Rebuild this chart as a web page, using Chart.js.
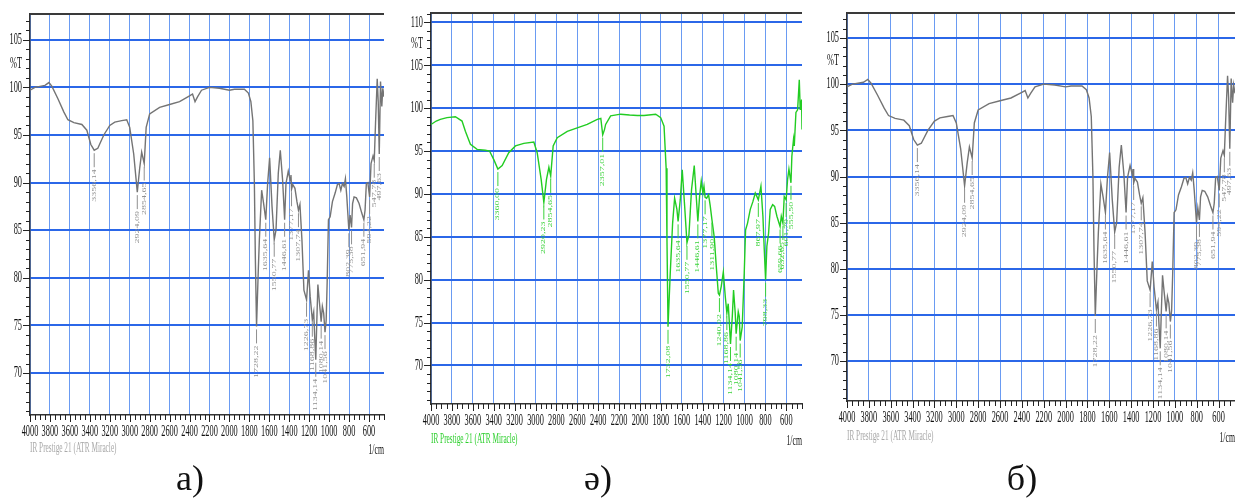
<!DOCTYPE html>
<html>
<head>
<meta charset="utf-8">
<script src="https://cdn.jsdelivr.net/npm/chart.js@4.4.1/dist/chart.umd.min.js"></script>
<style>
  body { margin: 0; width: 1235px; height: 499px; overflow: hidden; background: #fff; position: relative; font-family: "Liberation Serif", serif; }
  canvas { position: absolute; top: 0; }
  .legenda { position: absolute; top: 460px; width: 80px; text-align: center; font-size: 36px; line-height: 36px; color: #111; }
</style>
</head>
<body>
<canvas id="espectroA" width="400" height="460" style="left:0px"></canvas>
<canvas id="espectroE" width="400" height="460" style="left:410px"></canvas>
<canvas id="espectroB" width="415" height="460" style="left:820px"></canvas>
<div class="legenda" style="left:150px">а)</div>
<div class="legenda" style="left:558px">ə)</div>
<div class="legenda" style="left:982px">б)</div>

<script>
// eixos comuns (1/cm e %T)
const ticksX = [4000, 3800, 3600, 3400, 3200, 3000, 2800, 2600, 2400, 2200, 2000, 1800, 1600, 1400, 1200, 1000, 800, 600];
const ticksY = [70, 75, 80, 85, 90, 95, 100, 105];
const ticksYVerde = [70, 75, 80, 85, 90, 95, 100, 105, 110];

// espectro cinza (amostras а e б)
const ondaCinza = [4000, 3950, 3900, 3850, 3810, 3780, 3720, 3660, 3620, 3560, 3480, 3430, 3390, 3356.14, 3320, 3260,
  3200, 3150, 3080, 3030, 3000, 2960, 2924.09, 2900, 2880, 2854.65, 2835, 2800, 2700, 2600, 2500, 2400, 2370, 2345,
  2320, 2280, 2200, 2100, 2000, 1950, 1850, 1810, 1785, 1765, 1750, 1740, 1728.22, 1710, 1700, 1677, 1657, 1635.64,
  1617, 1597, 1573, 1550.77, 1533, 1510, 1490, 1467, 1446.61, 1433, 1410, 1390, 1383, 1377.17, 1365, 1343, 1323,
  1307.74, 1293, 1273, 1253, 1226.73, 1215, 1207, 1190, 1168.86, 1155, 1145, 1134.14, 1125, 1113, 1100, 1080.14,
  1068, 1055, 1041.56, 1030, 1020, 1007, 990, 967, 940, 917, 900, 883, 867, 850, 837, 823, 802.39, 790, 775.38,
  765, 750, 727, 700, 673, 651.94, 640, 627, 612, 594.22, 580, 560, 547.78, 535, 518, 508, 497.63, 485, 472, 462, 450];
const transCinza = [99.7, 100.0, 100.1, 100.2, 100.5, 100.1, 98.8, 97.4, 96.6, 96.3, 96.1, 95.5, 94.0, 93.4, 93.6, 95.0,
  96.0, 96.35, 96.5, 96.6, 95.8, 93.0, 89.0, 91.5, 93.2, 92.0, 95.8, 97.2, 97.9, 98.2, 98.5, 99.1, 99.3, 98.5,
  99.0, 99.7, 100.0, 99.9, 99.7, 99.8, 99.8, 99.4, 98.5, 96.5, 90.0, 82.0, 74.9, 81.0, 84.0, 89.2, 87.8, 86.1,
  89.9, 92.6, 87.5, 84.0, 85.0, 91.0, 93.4, 90.3, 86.1, 89.9, 91.2, 90.2, 90.8, 89.3, 89.8, 89.4, 88.0,
  87.1, 87.7, 84.0, 78.7, 77.7, 79.5, 80.8, 78.0, 75.6, 76.4, 73.8, 71.4, 75.0, 79.3, 77.7, 75.4,
  77.0, 76.3, 74.3, 75.5, 79.5, 86.1, 86.4, 88.0, 88.9, 89.8, 89.9, 89.2, 89.9, 89.6, 90.4, 88.5, 85.0, 86.6, 85.3,
  87.8, 88.5, 88.4, 87.8, 86.8, 86.1, 87.1, 89.9, 90.0, 88.5, 92.0, 92.8, 92.3, 96.2, 100.9, 98.5, 93.0, 100.6, 98.0, 99.9, 99.0];
const picosCinza = [3356.14, 2924.09, 2854.65, 1728.22, 1635.64, 1550.77, 1446.61, 1377.17, 1307.74, 1226.73,
  1168.86, 1134.14, 1080.14, 1041.56, 802.39, 775.38, 651.94, 594.22, 547.78, 497.63];

// espectro verde (amostra ə)
const ondaVerde = [4000, 3950, 3911, 3847, 3767, 3703, 3671, 3623, 3559, 3480, 3440, 3399, 3360.00, 3319, 3256, 3192,
  3112, 3016, 2984, 2946, 2920.23, 2895, 2872, 2854.65, 2831, 2792, 2696, 2601, 2505, 2409, 2375, 2357.01, 2340,
  2329, 2281, 2185, 2100, 2026, 1962, 1850, 1802, 1770, 1750, 1742, 1732.08, 1711, 1688, 1669, 1647, 1635.64,
  1615, 1596, 1573, 1550.77, 1532, 1507, 1481, 1462, 1446.61, 1430, 1414, 1398, 1388, 1377.17, 1363, 1344, 1328,
  1311.90, 1290, 1270, 1251, 1240.02, 1223, 1203, 1184, 1168.86, 1156, 1143, 1134.14, 1117, 1105, 1089, 1080.14,
  1060, 1050, 1041.56, 1022, 1003, 990, 971, 945, 920, 897, 885, 867.97, 843, 824, 811, 798.33, 786, 770, 754,
  731, 712, 690, 659.66, 648, 632.65, 620, 601.79, 588, 575, 555.50, 547, 531, 524, 508, 492, 476, 467, 454, 450];
const transVerde = [98.1, 98.5, 98.7, 98.9, 99.0, 98.5, 97.3, 95.8, 95.2, 95.1, 95.0, 94.0, 92.9, 93.3, 94.8, 95.6,
  95.9, 96.05, 94.8, 91.7, 89.0, 91.7, 93.1, 92.1, 95.6, 96.55, 97.3, 97.7, 98.1, 98.7, 98.8, 96.9, 97.5,
  98.1, 99.1, 99.3, 99.2, 99.15, 99.15, 99.3, 98.9, 97.9, 93.0, 84.6, 74.5, 80.7, 86.6, 89.5, 88.2, 86.8,
  89.3, 92.8, 88.6, 84.3, 85.2, 90.5, 93.3, 89.7, 86.8, 89.7, 91.5, 90.1, 90.9, 89.6, 89.5, 89.9, 88.6,
  87.0, 85.0, 81.5, 78.4, 78.2, 79.2, 80.9, 78.0, 76.1, 77.2, 74.5, 72.5, 75.7, 78.8, 76.1, 73.7,
  76.25, 75.7, 72.9, 74.5, 80.7, 85.8, 86.6, 88.2, 89.1, 90.1, 89.8, 89.3, 90.9, 87.4, 83.5, 80.0, 83.9, 85.4, 88.2,
  88.75, 88.55, 87.4, 86.2, 87.4, 86.6, 89.7, 89.3, 91.7, 92.9, 91.3, 94.4, 96.4, 95.6, 99.5, 99.8, 103.3, 99.8, 101.0, 97.5];
const picosVerde = [3360.00, 2920.23, 2854.65, 2357.01, 1732.08, 1635.64, 1550.77, 1446.61, 1377.17, 1311.90,
  1240.02, 1168.86, 1134.14, 1080.14, 1041.56, 867.97, 798.33, 659.66, 632.65, 601.79, 555.50];

// valor de %T no numero de onda pedido (interpolacao linear)
function valorEm(ondas, trans, w) {
  for (let i = 0; i < ondas.length - 1; i++) {
    if (ondas[i] >= w && w >= ondas[i + 1]) {
      const f = (ondas[i] - w) / (ondas[i] - ondas[i + 1]);
      return trans[i] + f * (trans[i + 1] - trans[i]);
    }
  }
  return trans[trans.length - 1];
}

// texto estreito, como no relatorio do IR Prestige
function textoEstreito(ctx, txt, x, y, alinhar, tamanho, cor) {
  ctx.save();
  ctx.translate(x, y);
  ctx.scale(0.52, 1);
  ctx.font = tamanho + 'px "Liberation Serif"';
  ctx.fillStyle = cor;
  ctx.textAlign = alinhar;
  ctx.textBaseline = 'middle';
  ctx.fillText(txt, 0, 0);
  ctx.restore();
}

function criarPainel(id, p) {
  const decoracao = {
    id: 'decoracao',
    afterDraw(chart) {
      const ctx = chart.ctx;
      const a = chart.chartArea;
      const x = chart.scales.x;
      const y = chart.scales.y;

      ctx.save();
      // borda de cima
      ctx.strokeStyle = '#3a3a3a';
      ctx.lineWidth = 2;
      ctx.beginPath();
      ctx.moveTo(a.left, a.top);
      ctx.lineTo(a.right, a.top);
      ctx.stroke();

      // tracinhos do eixo x (a cada 50) e do eixo y (a cada 1)
      ctx.lineWidth = 1;
      ctx.strokeStyle = '#222';
      ctx.beginPath();
      for (let v = 4000; v >= 450; v -= 50) {
        const px = Math.round(x.getPixelForValue(v)) + 0.5;
        ctx.moveTo(px, a.bottom);
        ctx.lineTo(px, a.bottom + (v % 200 === 0 ? 7 : 5));
      }
      for (let v = Math.ceil(p.yMin); v <= p.yMax; v++) {
        const py = Math.round(y.getPixelForValue(v)) + 0.5;
        ctx.moveTo(a.left - (v % 5 === 0 ? 7 : 4), py);
        ctx.lineTo(a.left, py);
      }
      ctx.stroke();

      ticksX.forEach(v => textoEstreito(ctx, String(v), x.getPixelForValue(v), a.bottom + 17, 'center', 16, '#111'));
      p.ticksY.forEach(v => textoEstreito(ctx, String(v), a.left - 8, y.getPixelForValue(v), 'right', 16, '#111'));
      textoEstreito(ctx, '%T', a.left - 8, y.getPixelForValue(p.posT), 'right', 16, '#111');
      textoEstreito(ctx, 'IR Prestige 21 (ATR Miracle)', a.left, a.bottom + p.descIR, 'left', 14, p.corIR);
      textoEstreito(ctx, '1/cm', a.right, a.bottom + p.descIR + 2, 'right', 15, '#111');

      // rotulos dos picos
      ctx.strokeStyle = p.corRotulo;
      ctx.fillStyle = p.corRotulo;
      p.picos.forEach(w => {
        const px = x.getPixelForValue(w);
        const py = y.getPixelForValue(valorEm(p.ondas, p.trans, w));
        ctx.beginPath();
        ctx.moveTo(px, py + 3);
        ctx.lineTo(px, py + 17);
        ctx.stroke();
        ctx.save();
        ctx.translate(px, py + 19);
        ctx.scale(0.6, 1);
        ctx.rotate(-Math.PI / 2);
        ctx.font = '10px "Liberation Serif"';
        ctx.textAlign = 'right';
        ctx.textBaseline = 'middle';
        ctx.fillText(w.toFixed(2).replace('.', ','), 0, 0);
        ctx.restore();
      });
      ctx.restore();
    }
  };

  const ctx = document.getElementById(id).getContext('2d');
  return new Chart(ctx, {
    type: 'line',
    data: {
      datasets: [{
        data: p.ondas.map((w, i) => ({ x: w, y: p.trans[i] })),
        borderColor: p.cor,
        borderWidth: 1.4,
        pointRadius: 0,
        tension: 0,
        fill: false
      }]
    },
    options: {
      responsive: false,
      animation: false,
      layout: { padding: p.margem },
      plugins: { legend: { display: false }, tooltip: { enabled: false } },
      scales: {
        x: {
          type: 'linear', reverse: true, min: 450, max: 4000,
          afterBuildTicks: s => { s.ticks = ticksX.map(v => ({ value: v })); },
          ticks: { display: false },
          grid: { color: '#6a9bf2', lineWidth: 1, drawTicks: false },
          border: { display: true, color: '#333', width: 1.5 }
        },
        y: {
          min: p.yMin, max: p.yMax,
          afterBuildTicks: s => { s.ticks = p.ticksY.map(v => ({ value: v })); },
          ticks: { display: false },
          grid: { color: '#2b67e8', lineWidth: 2, drawTicks: false },
          border: { display: true, color: '#333', width: 1.5 }
        }
      }
    },
    plugins: [decoracao]
  });
}

criarPainel('espectroA', {
  ondas: ondaCinza, trans: transCinza, picos: picosCinza, ticksY: ticksY,
  yMin: 65.6, yMax: 107.7, posT: 102.5, cor: '#747474', corRotulo: '#8f8f8f', corIR: '#a8a8a8',
  margem: { left: 30, top: 14, right: 16, bottom: 45 }, descIR: 33
});
criarPainel('espectroE', {
  ondas: ondaVerde, trans: transVerde, picos: picosVerde, ticksY: ticksYVerde,
  yMin: 65.5, yMax: 111.1, posT: 107.5, cor: '#22cc22', corRotulo: '#3ad23a', corIR: '#2ccf2c',
  margem: { left: 21, top: 13, right: 8, bottom: 56 }, descIR: 35
});
criarPainel('espectroB', {
  ondas: ondaCinza, trans: transCinza, picos: picosCinza, ticksY: ticksY,
  yMin: 65.7, yMax: 107.7, posT: 102.5, cor: '#747474', corRotulo: '#8f8f8f', corIR: '#a8a8a8',
  margem: { left: 27, top: 13, right: 0, bottom: 59 }, descIR: 35
});
</script>
</body>
</html>
